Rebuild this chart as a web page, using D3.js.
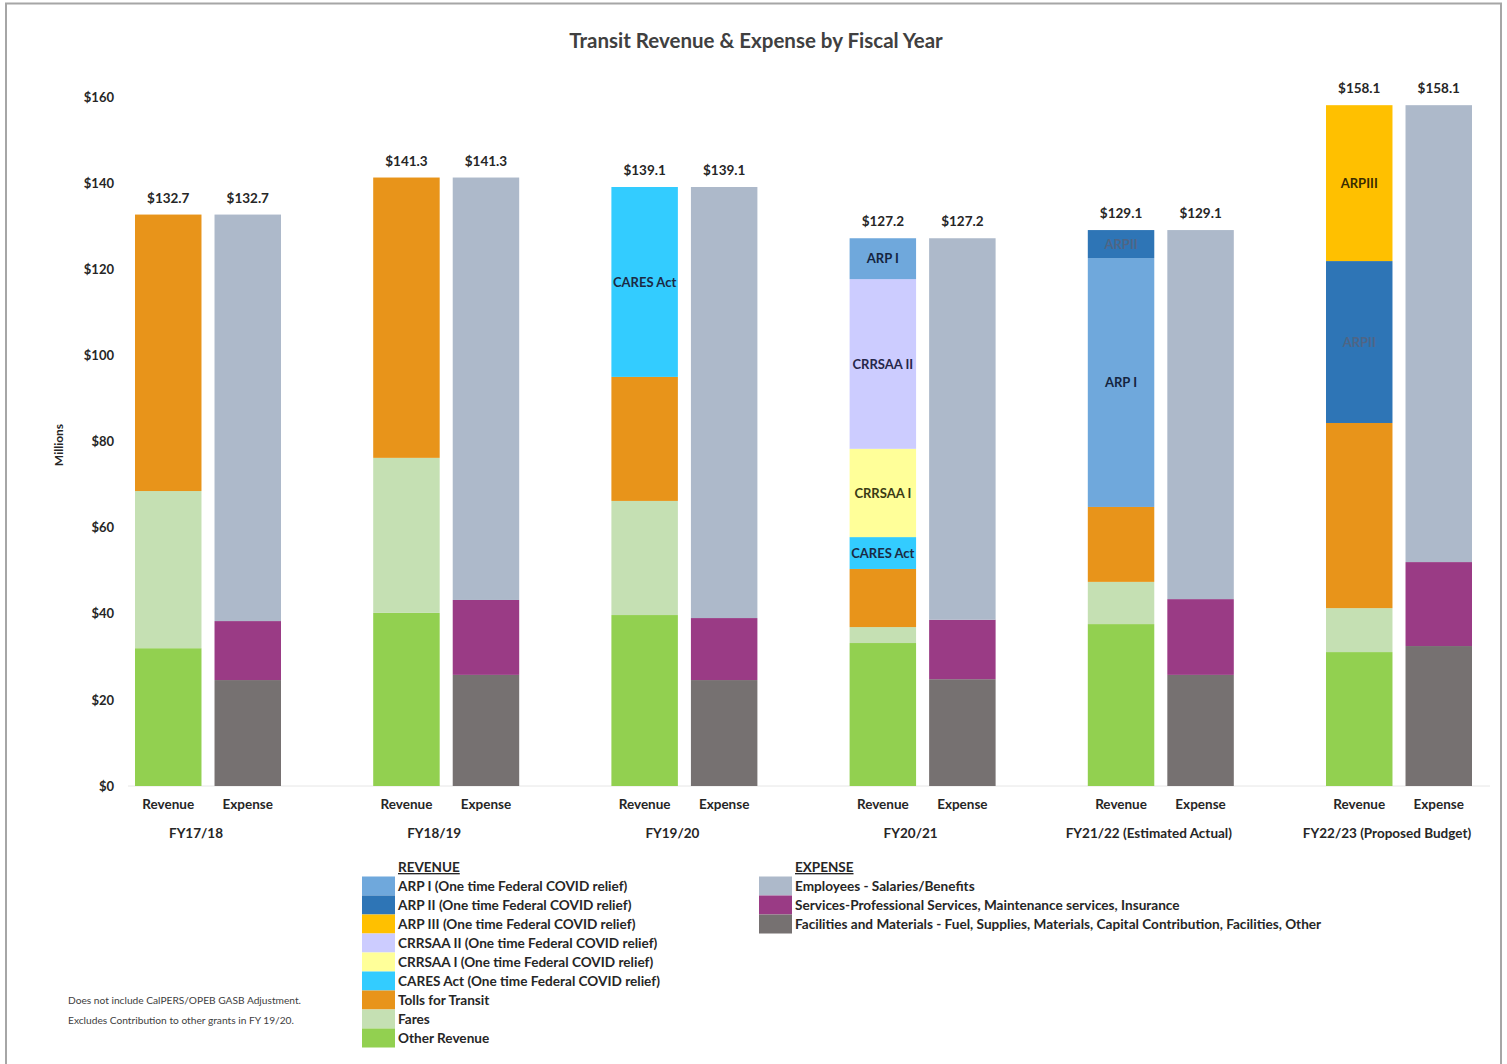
<!DOCTYPE html>
<html>
<head>
<meta charset="utf-8">
<script src="https://cdn.jsdelivr.net/npm/d3@7"></script>
<style>
  html, body { margin: 0; padding: 0; background: #fff; }
  svg { display: block; font-family: Lato, "Open Sans", sans-serif; }
</style>
</head>
<body>
<svg id="chart" width="1507" height="1064"></svg>
<script>
// ---------- DATA ----------
const years = ["FY17/18", "FY18/19", "FY19/20", "FY20/21", "FY21/22 (Estimated Actual)", "FY22/23 (Proposed Budget)"];
const barTypes = ["Revenue", "Expense"];

// Revenue series (stack order bottom -> top)
const revenueKeys = ["Other Revenue", "Fares", "Tolls for Transit", "CARES Act", "CRRSAA I", "CRRSAA II", "ARP I", "ARP II", "ARP III"];
const otherRevenue = [32.0, 40.2, 39.7, 33.2, 37.6, 31.1];
const fares        = [36.5, 36.0, 26.5, 3.7, 9.8, 10.2];
const tolls        = [64.2, 65.1, 28.8, 13.5, 17.4, 43.0];
const caresAct     = [0, 0, 44.1, 7.4, 0, 0];
const crrsaaI      = [0, 0, 0, 20.5, 0, 0];
const crrsaaII     = [0, 0, 0, 39.4, 0, 0];
const arpI         = [0, 0, 0, 9.5, 57.8, 0];
const arpII        = [0, 0, 0, 0, 6.5, 37.6];
const arpIII       = [0, 0, 0, 0, 0, 36.2];

// Expense series (bottom -> top)
const expenseKeys = ["Facilities", "Services", "Employees"];
const facilities = [24.6, 25.8, 24.6, 24.8, 25.8, 32.5];
const services   = [13.7, 17.4, 14.4, 13.8, 17.6, 19.5];
const employees  = [94.4, 98.1, 100.1, 88.6, 85.7, 106.1];

// Totals shown above bars
const totals = [132.7, 141.3, 139.1, 127.2, 129.1, 158.1];

// In-bar segment labels: [year index, series key, text]
const segmentLabels = [
  [2, "CARES Act", "CARES Act"],
  [3, "ARP I", "ARP I"],
  [3, "CRRSAA II", "CRRSAA II"],
  [3, "CRRSAA I", "CRRSAA I"],
  [3, "CARES Act", "CARES Act"],
  [4, "ARP II", "ARPII"],
  [4, "ARP I", "ARP I"],
  [5, "ARP III", "ARPIII"],
  [5, "ARP II", "ARPII"]
];

const yTicks = [0, 20, 40, 60, 80, 100, 120, 140, 160];

const revenueLegend = [
  ["ARP I", "ARP I (One time Federal COVID relief)"],
  ["ARP II", "ARP II (One time Federal COVID relief)"],
  ["ARP III", "ARP III (One time Federal COVID relief)"],
  ["CRRSAA II", "CRRSAA II (One time Federal COVID relief)"],
  ["CRRSAA I", "CRRSAA I (One time Federal COVID relief)"],
  ["CARES Act", "CARES Act (One time Federal COVID relief)"],
  ["Tolls for Transit", "Tolls for Transit"],
  ["Fares", "Fares"],
  ["Other Revenue", "Other Revenue"]
];
const expenseLegend = [
  ["Employees", "Employees - Salaries/Benefits"],
  ["Services", "Services-Professional Services, Maintenance services, Insurance"],
  ["Facilities", "Facilities and Materials - Fuel, Supplies, Materials, Capital Contribution, Facilities, Other"]
];

const footnotes = [
  "Does not include CalPERS/OPEB GASB Adjustment.",
  "Excludes Contribution to other grants in FY 19/20."
];

// ---------- STYLE ----------
const colors = {
  "Other Revenue": "#92d050",
  "Fares": "#c5e0b3",
  "Tolls for Transit": "#e8941a",
  "CARES Act": "#33ccff",
  "CRRSAA I": "#ffff99",
  "CRRSAA II": "#ccccff",
  "ARP I": "#6fa8dc",
  "ARP II": "#2e75b6",
  "ARP III": "#ffc000",
  "Facilities": "#767171",
  "Services": "#9a3b85",
  "Employees": "#adb9ca"
};
const labelColors = {
  "CARES Act": "#1b2a44",
  "CRRSAA I": "#3a3a14",
  "CRRSAA II": "#26264a",
  "ARP I": "#14243f",
  "ARP II": "#4f6585",
  "ARP III": "#3a2c00"
};

// ---------- BUILD ----------
const revSeries = [otherRevenue, fares, tolls, caresAct, crrsaaI, crrsaaII, arpI, arpII, arpIII];
const expSeries = [facilities, services, employees];

const revRows = years.map((y, i) => {
  const o = { year: y };
  revenueKeys.forEach((k, j) => o[k] = revSeries[j][i]);
  return o;
});
const expRows = years.map((y, i) => {
  const o = { year: y };
  expenseKeys.forEach((k, j) => o[k] = expSeries[j][i]);
  return o;
});

const revStack = d3.stack().keys(revenueKeys)(revRows);
const expStack = d3.stack().keys(expenseKeys)(expRows);

const svg = d3.select("#chart");
const textColor = "#262626";

// frame
svg.append("rect").attr("x", 6).attr("y", 3.5).attr("width", 1495).attr("height", 1070)
  .attr("fill", "none").attr("stroke", "#a6a6a6").attr("stroke-width", 2);

const y = d3.scaleLinear().domain([0, 160]).range([786, 97]);
const xGroup = d3.scalePoint().domain(years).range([208, 1399]);
const xInner = d3.scaleBand().domain(barTypes).range([-73, 73]).paddingInner(0.164);

// title
svg.append("text").attr("x", 756).attr("y", 48).attr("text-anchor", "middle")
  .attr("font-size", 20.5).attr("font-weight", 700).attr("fill", "#404040")
  .text("Transit Revenue & Expense by Fiscal Year");

// baseline
svg.append("line").attr("x1", 128).attr("x2", 1490).attr("y1", y(0)).attr("y2", y(0))
  .attr("stroke", "#e6e6e6").attr("stroke-width", 1);

// y axis
const yAxis = d3.axisLeft(y).tickValues(yTicks).tickSize(0).tickPadding(0)
  .tickFormat(d => "$" + d);
const yg = svg.append("g").attr("transform", "translate(114,0)").call(yAxis);
yg.select(".domain").remove();
yg.selectAll("text").attr("font-size", 13).attr("font-weight", 700).attr("fill", textColor)
  .attr("font-family", "Lato, sans-serif");

svg.append("text").attr("transform", "translate(63,445) rotate(-90)")
  .attr("text-anchor", "middle").attr("font-size", 12).attr("font-weight", 700)
  .attr("fill", textColor).text("Millions");

// bars
function drawStack(stack, type) {
  const g = svg.append("g");
  stack.forEach(layer => {
    g.selectAll(null).data(layer.filter(d => d[1] - d[0] > 0)).enter().append("rect")
      .attr("x", d => xGroup(d.data.year) + xInner(type))
      .attr("width", xInner.bandwidth())
      .attr("y", d => y(d[1]))
      .attr("height", d => y(d[0]) - y(d[1]))
      .attr("fill", colors[layer.key]);
  });
}
drawStack(revStack, "Revenue");
drawStack(expStack, "Expense");

// segment labels
segmentLabels.forEach(([i, key, txt]) => {
  const layer = revStack.find(l => l.key === key);
  const d = layer[i];
  svg.append("text")
    .attr("x", xGroup(years[i]) + xInner("Revenue") + xInner.bandwidth() / 2)
    .attr("y", (y(d[0]) + y(d[1])) / 2)
    .attr("dy", "0.35em").attr("text-anchor", "middle")
    .attr("font-size", 13).attr("font-weight", 700)
    .attr("fill", labelColors[key]).text(txt);
});

// totals
years.forEach((yr, i) => {
  barTypes.forEach(t => {
    svg.append("text")
      .attr("x", xGroup(yr) + xInner(t) + xInner.bandwidth() / 2)
      .attr("y", y(totals[i]) - 12)
      .attr("text-anchor", "middle").attr("font-size", 13.5).attr("font-weight", 700)
      .attr("fill", textColor).text("$" + totals[i].toFixed(1));
  });
  barTypes.forEach(t => {
    svg.append("text")
      .attr("x", xGroup(yr) + xInner(t) + xInner.bandwidth() / 2)
      .attr("y", 809)
      .attr("text-anchor", "middle").attr("font-size", 13.5).attr("font-weight", 700)
      .attr("fill", textColor).text(t);
  });
  svg.append("text").attr("x", xGroup(yr) - 12).attr("y", 838)
    .attr("text-anchor", "middle").attr("font-size", 13.5).attr("font-weight", 700)
    .attr("fill", textColor).text(yr);
});

// legends
function legend(x0, title, items) {
  const g = svg.append("g");
  g.append("text").attr("x", x0 + 36).attr("y", 872).attr("font-size", 13.5)
    .attr("font-weight", 700).attr("fill", textColor)
    .attr("text-decoration", "underline").text(title);
  items.forEach(([key, label], i) => {
    const cy = 886 + i * 19;
    g.append("rect").attr("x", x0).attr("y", cy - 9.5).attr("width", 33).attr("height", 19)
      .attr("fill", colors[key]);
    g.append("text").attr("x", x0 + 36).attr("y", cy).attr("dy", "0.35em")
      .attr("font-size", 13.6).attr("font-weight", 700).attr("fill", textColor).text(label);
  });
}
legend(362, "REVENUE", revenueLegend);
legend(759, "EXPENSE", expenseLegend);

// footnotes
footnotes.forEach((t, i) => {
  svg.append("text").attr("x", 68).attr("y", 1004 + i * 20).attr("font-size", 10.2)
    .attr("fill", "#404040").text(t);
});
</script>
</body>
</html>
